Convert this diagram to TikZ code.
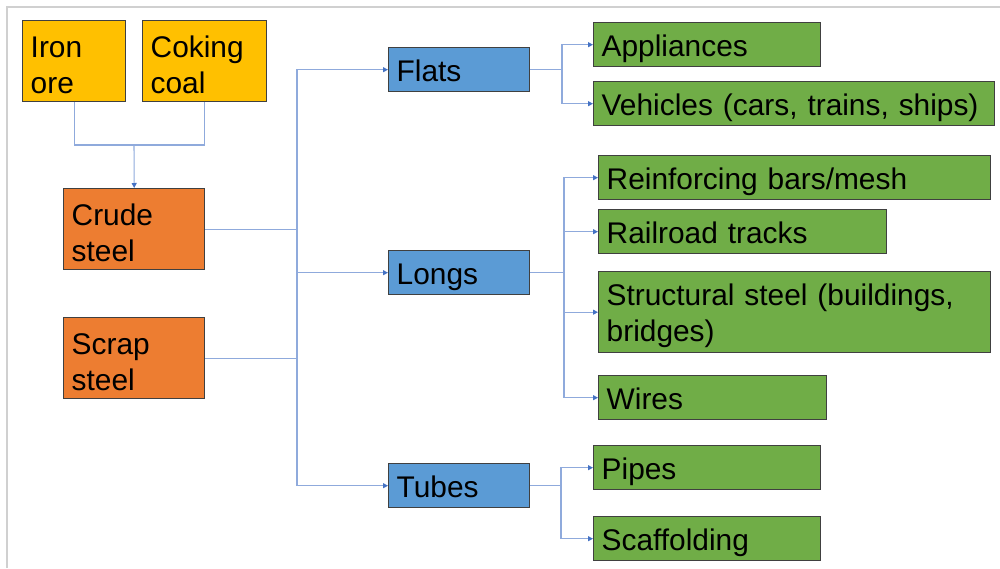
\documentclass[tikz,border=0pt]{standalone}
\usepackage{tikz}
\usepackage{xcolor}
\usepackage{fontspec}
\setmainfont{Liberation Sans}
\usetikzlibrary{arrows.meta,positioning}

\definecolor{rawyellow}{HTML}{FFC000}
\definecolor{steelorange}{HTML}{ED7D31}
\definecolor{formblue}{HTML}{5B9BD5}
\definecolor{usegreen}{HTML}{70AD47}
\definecolor{boxline}{HTML}{404040}
\definecolor{linkblue}{HTML}{8FAADC}
\definecolor{tipblue}{HTML}{4472C4}
\definecolor{framegray}{HTML}{D0D0D0}

\tikzset{
  box/.style={draw=boxline,line width=0.8pt,anchor=north west,align=left,
    inner xsep=0.16cm,inner ysep=0pt,minimum height=0.88cm,
    font=\fontsize{17}{20.5}\selectfont,text height=16.5pt,text depth=3.6pt},
  tall/.style={minimum height=1.62cm,text depth={}},
  raw/.style={box,tall,fill=rawyellow},
  crude/.style={box,tall,fill=steelorange},
  form/.style={box,fill=formblue,text width=2.5cm},
  use/.style={box,fill=usegreen},
  link/.style={linkblue,line width=0.6pt},
  linkto/.style={link,-{Triangle[length=0.1cm,width=0.1cm,color=tipblue]}}
}

\begin{document}
\begin{tikzpicture}[x=0.02cm,y=-0.02cm]
\useasboundingbox (0,0) rectangle (1000,568);
\draw[framegray,line width=0.04cm] (7,568) -- (7,7) -- (1000,7);

% raw materials and steel
\node[raw,text width=1.74cm] (ore) at (22,20) {Iron\\ore};
\node[raw,text width=2.16cm] (coal) at (142,20) {Coking\\coal};
\node[crude,text width=2.5cm] (crude) at (63,188) {Crude\\steel};
\node[crude,text width=2.5cm] (scrap) at (63,317) {Scrap\\steel};

% product forms
\node[form] (flats) at (388,47) {Flats};
\node[form] (longs) at (388,250) {Longs};
\node[form] (tubes) at (388,463) {Tubes};

% end uses
\node[use,text width=4.22cm] (appl) at (593,22) {Appliances};
\node[use,text width=7.7cm] (vehic) at (593,81) {Vehicles (cars, trains, ships)};
\node[use,text width=7.52cm] (rebar) at (598,155) {Reinforcing bars/mesh};
\node[use,text width=5.44cm] (rail) at (598,209) {Railroad tracks};
\node[use,tall,text width=7.52cm] (struct) at (598,271) {Structural steel (buildings,\\bridges)};
\node[use,text width=4.24cm] (wires) at (598,375) {Wires};
\node[use,text width=4.22cm] (pipes) at (593,445) {Pipes};
\node[use,text width=4.22cm] (scaff) at (593,516) {Scaffolding};

% joints
\coordinate (merge) at (134,145);
\coordinate (trunk) at (297,0);
\coordinate (fjoin) at (562,0);
\coordinate (ljoin) at (564,0);
\coordinate (tjoin) at (561,0);

\draw[link] (ore.south) |- (merge) -| (coal.south);
\draw[linkto] (merge) -- (crude.north);

\draw[link] (crude.east) -- (crude.east -| trunk);
\draw[link] (scrap.east) -- (scrap.east -| trunk);
\foreach \n in {flats,longs,tubes}
  \draw[linkto] (crude.east -| trunk) |- (\n.west);

\draw[link] (flats.east) -- (flats.east -| fjoin);
\foreach \n in {appl,vehic}
  \draw[linkto] (flats.east -| fjoin) |- (\n.west);
\draw[link] (longs.east) -- (longs.east -| ljoin);
\foreach \n in {rebar,rail,struct,wires}
  \draw[linkto] (longs.east -| ljoin) |- (\n.west);
\draw[link] (tubes.east) -- (tubes.east -| tjoin);
\foreach \n in {pipes,scaff}
  \draw[linkto] (tubes.east -| tjoin) |- (\n.west);
\end{tikzpicture}
\end{document}
